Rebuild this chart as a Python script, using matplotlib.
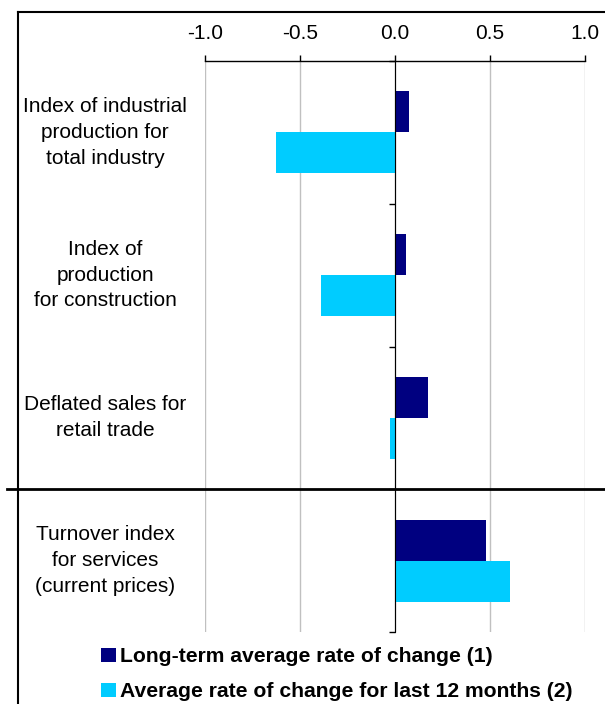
import matplotlib.pyplot as plt
import matplotlib.transforms as mtransforms
from matplotlib.lines import Line2D
import numpy as np

plt.rcParams['font.family'] = ['Liberation Sans', 'DejaVu Sans']

# data
categories = [
    'Index of industrial\nproduction for\ntotal industry',
    'Index of\nproduction\nfor construction',
    'Deflated sales for\nretail trade',
    'Turnover index\nfor services\n(current prices)',
]
long_term = [0.074, 0.058, 0.174, 0.477]
last_12m = [-0.626, -0.39, -0.026, 0.605]
series_labels = ['Long-term average rate of change (1)',
                 'Average rate of change for last 12 months (2)']
xticks = [-1.0, -0.5, 0.0, 0.5, 1.0]

navy = '#000080'
cyan = '#00CCFF'

fig = plt.figure(figsize=(6.05, 7.04), dpi=100)
ax = fig.add_axes([205 / 605, 1 - 632 / 704, 380 / 605, 571 / 704])

y = np.arange(len(categories))
h = 0.287
b1 = ax.barh(y - h / 2, long_term, height=h, color=navy, zorder=3)
b2 = ax.barh(y + h / 2, last_12m, height=h, color=cyan, zorder=3)

ax.set_ylim(len(categories) - 0.5, -0.5)
ax.set_xlim(-1.0, 1.0)

# x axis on top
ax.xaxis.tick_top()
ax.set_xticks(xticks)
ax.set_xticklabels([f'{v:.1f}' for v in xticks])
ax.tick_params(axis='x', direction='out', length=4, width=1, pad=9,
               labelsize=15, colors='black')
ax.grid(axis='x', color='#c0c0c0', lw=1, zorder=0)

# spines
ax.spines['right'].set_visible(False)
ax.spines['bottom'].set_visible(False)
ax.spines['top'].set_linewidth(1)
ax.spines['left'].set_position(('data', 0))
ax.spines['left'].set_zorder(4)
ax.set_yticks(np.arange(-0.5, len(categories), 1.0))
ax.set_yticklabels([])
ax.tick_params(axis='y', direction='out', length=4, width=1)

# category labels
trans = mtransforms.blended_transform_factory(fig.transFigure, ax.transData)
for i, lab in enumerate(categories):
    ax.text(105 / 605, i, lab, transform=trans, ha='center', va='center',
            fontsize=15, linespacing=1.45)

# separator line between groups
ax.add_line(Line2D([7 / 605, 1.0], [2.5, 2.5], transform=trans,
                   color='black', lw=2, clip_on=False, zorder=5))

# frame lines
fig.add_artist(Line2D([18 / 605, 1.0], [1 - 12 / 704, 1 - 12 / 704],
                      transform=fig.transFigure, color='black', lw=1.5))
fig.add_artist(Line2D([18 / 605, 18 / 605], [0, 1 - 12 / 704],
                      transform=fig.transFigure, color='black', lw=1.5))

# legend
fig.legend([b1, b2], series_labels, loc='upper left',
           bbox_to_anchor=(93 / 605, 1 - 639 / 704), frameon=False,
           handlelength=0.7, handleheight=0.7, handletextpad=0.2,
           labelspacing=0.75, borderaxespad=0,
           prop={'weight': 'bold', 'size': 15.2})

fig.savefig('out.png', dpi=100)
